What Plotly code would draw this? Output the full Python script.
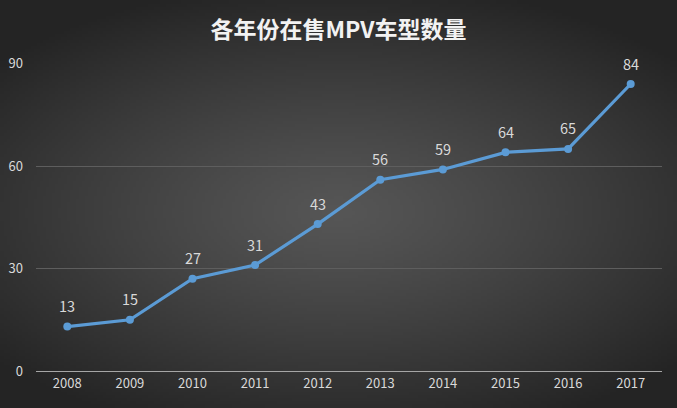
import base64, struct, zlib, math
import plotly.graph_objects as go

years = ["2008", "2009", "2010", "2011", "2012", "2013", "2014", "2015", "2016", "2017"]
counts = [13, 15, 27, 31, 43, 56, 59, 64, 65, 84]
title_text = "各年份在售MPV车型数量"

W, H = 677, 408
ML, MR, MT, MB = 36, 15, 63, 37
PW, PH = W - ML - MR, H - MT - MB
FONT = "Microsoft YaHei, Noto Sans CJK SC, sans-serif"


def make_png(w, h):
    rows = []
    for j in range(h):
        row = bytearray([0])
        for i in range(w):
            dx = (i / (w - 1) - 0.5) * 2
            dy = (j / (h - 1) - 0.52) * 2
            d = min(1.0, math.sqrt(dx * dx * 0.55 + dy * dy * 0.75))
            c = int(86 - (86 - 36) * d ** 1.2)
            row += bytes([c, c, c])
        rows.append(bytes(row))
    raw = b"".join(rows)

    def chunk(t, data):
        c = struct.pack(">I", len(data)) + t + data
        return c + struct.pack(">I", zlib.crc32(t + data) & 0xffffffff)

    png = b"\x89PNG\r\n\x1a\n"
    png += chunk(b"IHDR", struct.pack(">IIBBBBB", w, h, 8, 2, 0, 0, 0))
    png += chunk(b"IDAT", zlib.compress(raw, 9))
    png += chunk(b"IEND", b"")
    return "data:image/png;base64," + base64.b64encode(png).decode()


bg = make_png(226, 136)

fig = go.Figure(
    go.Scatter(
        x=years,
        y=counts,
        mode="lines+markers",
        line=dict(color="#5b9bd5", width=3.2),
        marker=dict(color="#5b9bd5", size=8),
        cliponaxis=False,
        hoverinfo="x+y",
    )
)

annotations = [
    dict(
        x=i, y=v, xref="x", yref="y", text=str(v), showarrow=False,
        yshift=21, font=dict(family=FONT, size=14.5, color="#d9d9d9"),
    )
    for i, v in enumerate(counts)
]

fig.update_layout(
    width=W,
    height=H,
    margin=dict(l=ML, r=MR, t=MT, b=MB, autoexpand=False),
    paper_bgcolor="#3a3a3a",
    plot_bgcolor="rgba(0,0,0,0)",
    showlegend=False,
    annotations=annotations,
    title=dict(
        text="<b>" + title_text + "</b>",
        x=0.5,
        xanchor="center",
        y=1 - 30 / H,
        yanchor="middle",
        font=dict(family=FONT, size=23, color="#f2f2f2"),
    ),
    images=[
        dict(
            source=bg,
            xref="paper",
            yref="paper",
            x=-ML / PW,
            y=1 + MT / PH,
            sizex=W / PW,
            sizey=H / PH,
            xanchor="left",
            yanchor="top",
            sizing="stretch",
            layer="below",
        )
    ],
    xaxis=dict(
        type="category",
        categoryorder="array",
        categoryarray=years,
        range=[-0.5, len(years) - 0.5],
        showgrid=False,
        showline=True,
        linecolor="#a6a6a6",
        linewidth=1.3,
        ticks="",
        automargin=False,
        tickfont=dict(family=FONT, size=13, color="#d9d9d9"),
        fixedrange=True,
    ),
    yaxis=dict(
        range=[0, 90.15],
        tickvals=[0, 30, 60, 90],
        showgrid=True,
        gridcolor="#5e5e5e",
        gridwidth=1,
        zeroline=False,
        showline=False,
        ticks="",
        automargin=False,
        ticklabelstandoff=12,
        tickfont=dict(family=FONT, size=13, color="#d9d9d9"),
        fixedrange=True,
    ),
)

fig.write_html("out.html")
